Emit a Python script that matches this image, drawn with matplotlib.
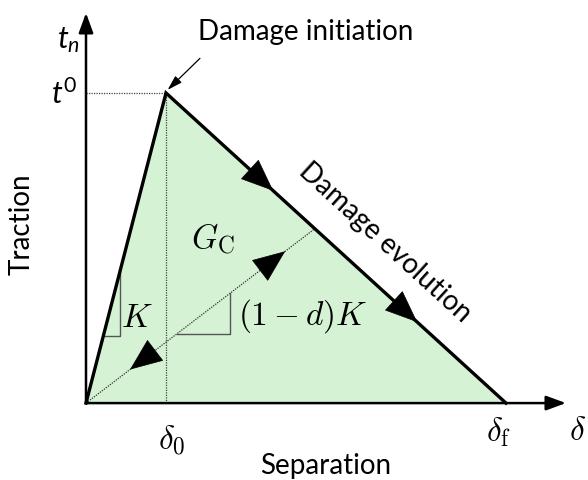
import numpy as np
import matplotlib.pyplot as plt
from matplotlib.patches import FancyArrowPatch

plt.rcParams['mathtext.fontset'] = 'custom'
plt.rcParams['mathtext.it'] = 'Lato:italic'
plt.rcParams['mathtext.rm'] = 'Lato'

# bilinear traction-separation law (normalised)
delta_0 = 1.0
delta_f = 5.25
t_0 = 1.0
delta_u = 2.86          # unloading point on the softening branch

law_x = [0.0, delta_0, delta_f]
law_y = [0.0, t_0, 0.0]
t_u = t_0 * (delta_f - delta_u) / (delta_f - delta_0)

# arrow tips along the branches (x positions)
soft_arrows = [2.34, 4.14]
unload_up = 2.49
unload_down = 0.55

fig = plt.figure(figsize=(5.88, 4.81), dpi=100)
ax = fig.add_axes([0, 0, 1, 1])
ax.set_xlim(-1.075, 6.275)
ax.set_ylim(-0.248, 1.303)
ax.axis('off')

green = '#d5f2d5'
ax.fill(law_x, law_y, color=green, zorder=0)

# axes with arrows
ax.annotate('', xy=(6.0, 0), xytext=(0, 0),
            arrowprops=dict(arrowstyle='-|>,head_length=0.6,head_width=0.22',
                            color='k', lw=1.8, mutation_scale=20, shrinkA=0, shrinkB=0))
ax.annotate('', xy=(0, 1.258), xytext=(0, 0),
            arrowprops=dict(arrowstyle='-|>,head_length=0.6,head_width=0.22',
                            color='k', lw=1.8, mutation_scale=20, shrinkA=0, shrinkB=0))

# helper lines
ax.plot([0, delta_0], [t_0, t_0], color='#444444', lw=0.9, ls=(0, (1, 1)))
ax.plot([delta_0, delta_0], [0, t_0], color='#444444', lw=0.9, ls=(0, (1, 1)))
ax.plot([0, delta_u], [0, t_u], color='#333333', lw=0.9, ls=(0, (1, 1)))

# the law itself
ax.plot(law_x, law_y, color='k', lw=2.4, solid_joinstyle='miter', zorder=3)


def head(xt, p0, p1):
    # arrowhead on the segment p0-p1 with its tip at x = xt
    s = (xt - p0[0]) / (p1[0] - p0[0])
    tip = (p0[0] + s * (p1[0] - p0[0]), p0[1] + s * (p1[1] - p0[1]))
    d = 0.01
    tail = (tip[0] - d * (p1[0] - p0[0]), tip[1] - d * (p1[1] - p0[1]))
    ax.add_patch(FancyArrowPatch(tail, tip, arrowstyle='-|>,head_length=1.1,head_width=0.45',
                                 mutation_scale=20, color='k', lw=0.5,
                                 shrinkA=0, shrinkB=0, zorder=4))


for xa in soft_arrows:
    head(xa, (delta_0, t_0), (delta_f, 0.0))
head(unload_up, (0.0, 0.0), (delta_u, t_u))
head(unload_down, (delta_u, t_u), (0.0, 0.0))

# slope triangles
k = t_0 / delta_0
xk = 0.425
yk0, yk1 = 0.216, xk * k
ax.plot([yk0 / k, xk, xk], [yk0, yk0, yk1], color='#555555', lw=1.0)

kd = t_u / delta_u
xd0, xd1 = 1.135, 1.8
yd = xd0 * kd
ax.plot([xd0, xd1, xd1], [yd, yd, xd1 * kd], color='#555555', lw=1.0)

cm = dict(math_fontfamily='cm', color='k')
ax.text(0.64, 0.28, r'$K$', fontsize=24, ha='center', va='center', **cm)
ax.text(1.9, 0.285, r'$(1-d)K$', fontsize=24, ha='left', va='center', **cm)
ax.text(1.59, 0.535, r'$G_{\rm C}$', fontsize=24, ha='center', va='center', **cm)
ax.text(delta_0 + 0.07, -0.115, r'$\delta_0$', fontsize=24, ha='center', va='center', **cm)
ax.text(delta_f - 0.09, -0.09, r'$\delta_{\rm f}$', fontsize=24, ha='center', va='center', **cm)
ax.text(6.15, -0.085, r'$\delta$', fontsize=24, ha='center', va='center', **cm)

sans = dict(family='Lato', color='k')
ax.text(-0.1, t_0, r'$t^0$', fontsize=22, ha='right', va='center', **sans)
ax.text(-0.07, 1.175, r'$t_n$', fontsize=22, ha='right', va='center', **sans)
ax.text(-0.8, 0.58, 'Traction', fontsize=20, rotation=90, ha='center', va='center', **sans)
ax.text(3.0, -0.2, 'Separation', fontsize=20, ha='center', va='center', **sans)

ax.annotate('Damage initiation', xy=(delta_0 + 0.02, t_0 + 0.01), xytext=(2.74, 1.2),
            fontsize=20, ha='center', va='center', **sans,
            arrowprops=dict(arrowstyle='-|>,head_length=0.5,head_width=0.15', color='k',
                            lw=0.9, mutation_scale=18, shrinkA=12, shrinkB=0,
                            relpos=(0.08, 0.0)))

# rotate the label to follow the softening branch on screen
p0 = ax.transData.transform((delta_0, t_0))
p1 = ax.transData.transform((delta_f, 0.0))
ang = np.degrees(np.arctan2(p1[1] - p0[1], p1[0] - p0[0]))
ax.text(3.74, 0.52, 'Damage evolution', fontsize=20, rotation=ang,
        rotation_mode='anchor', ha='center', va='center', **sans)

fig.savefig('out.png', dpi=100)
